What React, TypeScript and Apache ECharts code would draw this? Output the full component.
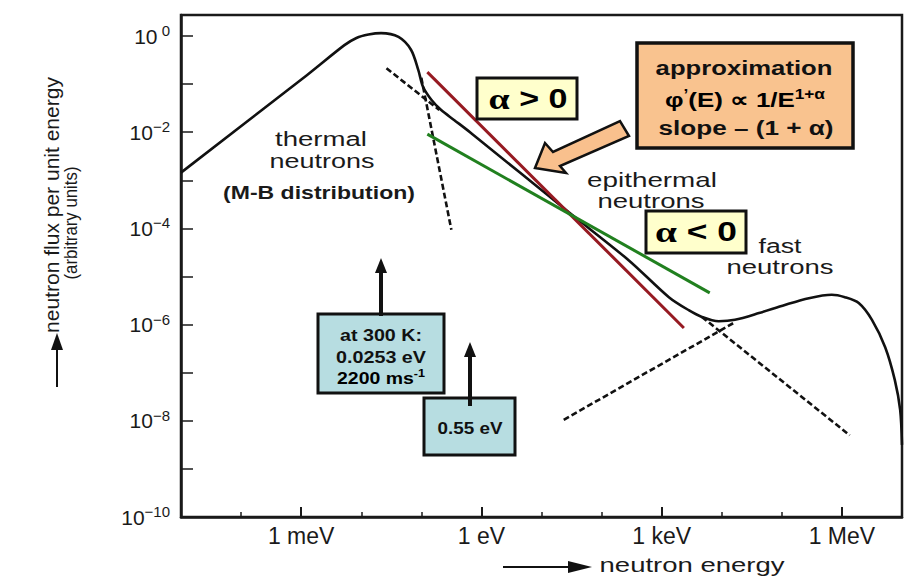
import React, { useEffect, useRef } from 'react';
import * as echarts from 'echarts';

// x = log10(E / eV), y = log10(flux per unit energy, arbitrary units)
const xTickValues = [-3, 0, 3, 6];
const xTickLabels = ['1 meV', '1 eV', '1 keV', '1 MeV'];
const yTickValues = [-10, -9, -8, -7, -6, -5, -4, -3, -2, -1, 0];
const yLabelValues = [-10, -8, -6, -4, -2, 0];

const spectrumX = [-5.0, -2.9, -2.28, -2.08, -1.88, -1.67, -1.38, -1.17, -1.05, -0.97, -0.83, -0.67, -0.45, -0.17, 1.45, 2.45, 3.12, 3.45, 3.67, 3.95, 4.22, 4.62, 5.05, 5.45, 5.83, 6.05, 6.28, 6.5, 6.72, 6.88, 6.97, 7.0];
const spectrumY = [-2.84, -0.81, -0.19, -0.04, 0.03, 0.06, -0.02, -0.29, -0.71, -1.06, -1.33, -1.54, -1.75, -2.02, -3.66, -4.66, -5.43, -5.7, -5.84, -5.93, -5.9, -5.76, -5.59, -5.45, -5.38, -5.43, -5.55, -5.9, -6.47, -7.15, -7.78, -8.5];

const maxwellTailX = [-1.0, -0.5];
const maxwellTailY = [-0.87, -4.03];
const epiBackX = [-1.58, -0.7];
const epiBackY = [-0.67, -1.54];
const fissionRiseX = [1.37, 2.8, 4.22];
const fissionRiseY = [-7.98, -6.96, -5.95];
const epiForwardX = [3.67, 6.13];
const epiForwardY = [-5.84, -8.3];
const alphaPosX = [-0.9, 3.37];
const alphaPosY = [-0.75, -6.07];
const alphaNegX = [-0.9, 3.8];
const alphaNegY = [-2.04, -5.34];

const FAMILY = '"Liberation Sans", Arial, Helvetica, sans-serif';
const SERIF = '"Liberation Serif", "Times New Roman", serif';

const pairs = (xs: number[], ys: number[]) => xs.map((x, i) => [x, ys[i]]);

export default function App() {
  const ref = useRef<HTMLDivElement>(null);

  useEffect(() => {
    if (!ref.current) return;
    const chart = echarts.init(ref.current, undefined, { renderer: 'svg' });
    const ctx = document.createElement('canvas').getContext('2d')!;
    const mw = (t: string, size: number, weight: string, family: string) => {
      ctx.font = `${weight} ${size}px ${family}`;
      return ctx.measureText(t).width;
    };

    const txt = (
      cx: number, cy: number, text: string, size: number, weight: string,
      color: string, target: number | null, rot = 0
    ) => {
      const w = mw(text, size, weight, FAMILY);
      const sx = target && w ? target / w : 1;
      return {
        type: 'text', x: cx, y: cy, rotation: rot, scaleX: sx, z: 20,
        style: {
          text, x: 0, y: 0, fill: color,
          fontSize: size, fontWeight: weight, fontFamily: FAMILY,
          textAlign: 'center', textVerticalAlign: 'middle', align: 'center', verticalAlign: 'middle',
        },
      };
    };

    const richTxt = (
      cx: number, cy: number, parts: { t: string; k: string }[],
      rich: Record<string, any>, target: number
    ) => {
      let w = 0;
      parts.forEach((p) => {
        const r = rich[p.k];
        w += mw(p.t, r.fontSize, r.fontWeight || 'normal', r.fontFamily);
      });
      return {
        type: 'text', x: cx, y: cy, scaleX: w ? target / w : 1, z: 20,
        style: {
          text: parts.map((p) => `{${p.k}|${p.t}}`).join(''),
          rich, x: 0, y: 0,
          textAlign: 'center', textVerticalAlign: 'middle', align: 'center', verticalAlign: 'middle',
        },
      };
    };

    const box = (x: number, y: number, w: number, h: number, fill: string, lw = 3) => ({
      type: 'rect', z: 15,
      shape: { x, y, width: w, height: h },
      style: { fill, stroke: '#111', lineWidth: lw },
    });

    const upArrow = (x: number, y0: number, tip: number, hw = 6, hl = 15, lw = 4) => [
      { type: 'line', z: 16, shape: { x1: x, y1: y0, x2: x, y2: tip + hl - 2 }, style: { stroke: '#111', lineWidth: lw } },
      { type: 'polygon', z: 16, shape: { points: [[x, tip], [x - hw, tip + hl], [x + hw, tip + hl]] }, style: { fill: '#111' } },
    ];

    const bold = (size: number, color = '#111', family = FAMILY) => ({ fontSize: size, fontWeight: 'bold', fontFamily: family, color });

    const graphic: any[] = [
      // region labels
      txt(321, 139, 'thermal', 20, 'normal', '#1a1a1a', 92),
      txt(322, 161, 'neutrons', 20, 'normal', '#1a1a1a', 105),
      txt(319, 192, '(M-B distribution)', 19, 'bold', '#1a1a1a', 192),
      txt(652, 180, 'epithermal', 20, 'normal', '#1a1a1a', 130),
      txt(651, 201, 'neutrons', 20, 'normal', '#1a1a1a', 107),
      txt(780, 246, 'fast', 20, 'normal', '#1a1a1a', 43),
      txt(780, 267, 'neutrons', 20, 'normal', '#1a1a1a', 107),

      // alpha > 0 box
      box(477, 78, 100, 41, '#ffffcc'),
      richTxt(528, 99, [{ t: 'α', k: 'a' }, { t: ' > 0', k: 'b' }],
        { a: bold(30, '#9a1616', SERIF), b: bold(27, '#9a1616') }, 79),

      // alpha < 0 box
      box(646, 211, 100, 42, '#ffffcc'),
      richTxt(696, 232, [{ t: 'α', k: 'a' }, { t: ' < 0', k: 'b' }],
        { a: bold(30, '#1d7a1d', SERIF), b: bold(27, '#1d7a1d') }, 82),

      // approximation box
      box(637, 43, 216, 105, '#f9c38f', 3.5),
      txt(744, 68, 'approximation', 21, 'bold', '#111', 177),
      richTxt(745, 100, [
        { t: 'φ', k: 'm' }, { t: '’', k: 's' }, { t: '(E) ∝ 1/E', k: 'm' }, { t: '1+α', k: 's' },
      ], {
        m: { ...bold(21), lineHeight: 26 },
        s: { ...bold(14), verticalAlign: 'top', lineHeight: 14 },
      }, 160),
      txt(746, 128, 'slope – (1 + α)', 21, 'bold', '#111', 175),

      // big pointing arrow
      {
        type: 'polygon', z: 15,
        shape: { points: [[535, 168], [545, 143], [553, 152], [620, 121], [629, 136], [560, 166], [566, 173]] },
        style: { fill: '#f9c08d', stroke: '#111', lineWidth: 2.5, lineJoin: 'miter' },
      },

      // thermal energy box + arrow
      ...upArrow(381, 316, 258),
      box(318, 314, 126, 79, '#b7dde1'),
      txt(381, 335, 'at 300 K:', 17, 'bold', '#111', 82),
      txt(381, 357, '0.0253 eV', 17, 'bold', '#111', 90),
      richTxt(381, 378, [{ t: '2200 ms', k: 'm' }, { t: '-1', k: 's' }], {
        m: { ...bold(17), lineHeight: 20 },
        s: { ...bold(11), verticalAlign: 'top', lineHeight: 11 },
      }, 88),

      // cut-off box + arrow
      ...upArrow(470, 406, 342),
      box(424, 398, 91, 57, '#b7dde1'),
      txt(470, 428, '0.55 eV', 17, 'bold', '#111', 65),

      // axis titles
      txt(52, 205, 'neutron flux per unit energy', 21, 'normal', '#1a1a1a', 256, Math.PI / 2),
      txt(71, 223, '(arbitrary units)', 18, 'normal', '#1a1a1a', 113, Math.PI / 2),
      { type: 'line', z: 16, shape: { x1: 57, y1: 387, x2: 57, y2: 345 }, style: { stroke: '#111', lineWidth: 2 } },
      { type: 'polygon', z: 16, shape: { points: [[57, 333], [51, 350], [63, 350]] }, style: { fill: '#111' } },
      txt(692, 565, 'neutron energy', 20, 'normal', '#1a1a1a', 185),
      { type: 'line', z: 16, shape: { x1: 503, y1: 567, x2: 575, y2: 567 }, style: { stroke: '#111', lineWidth: 2 } },
      { type: 'polygon', z: 16, shape: { points: [[592, 567], [568, 561], [568, 573]] }, style: { fill: '#111' } },
    ];

    const lineSeries = (name: string, xs: number[], ys: number[], color: string, width: number, type: any = 'solid', smooth: any = false) => ({
      name, type: 'line', data: pairs(xs, ys), showSymbol: false, symbol: 'none', smooth,
      lineStyle: { color, width, type }, z: 3, silent: true,
    });

    const option: any = {
      animation: false,
      backgroundColor: '#ffffff',
      grid: { left: 181, top: 15, right: 7, bottom: 60, show: true, borderColor: '#1a1a1a', borderWidth: 2.5, backgroundColor: 'transparent' },
      xAxis: [
        {
          type: 'value', min: -5, max: 7, interval: 1, position: 'bottom',
          axisLine: { show: true, onZero: false, lineStyle: { color: '#1a1a1a', width: 2.5 } },
          axisTick: { show: true, inside: true, length: 5, lineStyle: { color: '#1a1a1a', width: 1.5 } },
          axisLabel: {
            customValues: xTickValues, margin: 7, fontSize: 23, color: '#1a1a1a', fontFamily: FAMILY,
            formatter: (v: number) => {
              const i = xTickValues.findIndex((t) => Math.abs(t - v) < 1e-6);
              return i >= 0 ? xTickLabels[i] : '';
            },
          },
          splitLine: { show: false },
        },
        {
          // major ticks: a top-positioned axis shifted down onto the bottom edge
          type: 'value', min: -5, max: 7, interval: 1, position: 'top', offset: -502,
          axisLine: { show: false },
          axisTick: { show: true, inside: false, length: 10, customValues: xTickValues, lineStyle: { color: '#1a1a1a', width: 2 } },
          axisLabel: { show: false },
          splitLine: { show: false },
        },
      ],
      yAxis: {
        type: 'value', min: -10, max: 0.437, interval: 1,
        axisLine: { show: true, onZero: false, lineStyle: { color: '#1a1a1a', width: 2.5 } },
        axisTick: { show: true, inside: true, length: 12, customValues: yTickValues, lineStyle: { color: '#1a1a1a', width: 1.5 } },
        axisLabel: {
          customValues: yLabelValues, margin: 11, fontSize: 21, fontFamily: FAMILY, color: '#1a1a1a',
          formatter: (v: number) => {
            const e = Math.round(v);
            if (Math.abs(v - e) > 1e-6 || e % 2 !== 0) return '';
            return e === 0 ? '{b|10}{s| 0}' : `{b|10}{s|−${-e}}`;
          },
          rich: {
            b: { fontSize: 21, fontFamily: FAMILY, color: '#1a1a1a', lineHeight: 26 },
            s: { fontSize: 15, fontFamily: FAMILY, color: '#1a1a1a', verticalAlign: 'top', lineHeight: 15 },
          },
        },
        splitLine: { show: false },
      },
      series: [
        lineSeries('spectrum', spectrumX, spectrumY, '#111111', 2.6, 'solid', 0.3),
        lineSeries('Maxwellian tail', maxwellTailX, maxwellTailY, '#111111', 2.6, [6, 3]),
        lineSeries('1/E extension (low)', epiBackX, epiBackY, '#111111', 2.6, [6, 3]),
        lineSeries('fission spectrum', fissionRiseX, fissionRiseY, '#111111', 2.6, [6, 3]),
        lineSeries('1/E extension (high)', epiForwardX, epiForwardY, '#111111', 2.6, [6, 3]),
        lineSeries('alpha > 0', alphaPosX, alphaPosY, '#961a22', 3),
        lineSeries('alpha < 0', alphaNegX, alphaNegY, '#21801f', 3),
      ],
      graphic,
    };

    chart.setOption(option);
    return () => chart.dispose();
  }, []);

  return (
    <div
      ref={ref}
      style={{ position: 'absolute', left: 0, top: 0, width: 909, height: 577, background: '#fff' }}
    />
  );
}
